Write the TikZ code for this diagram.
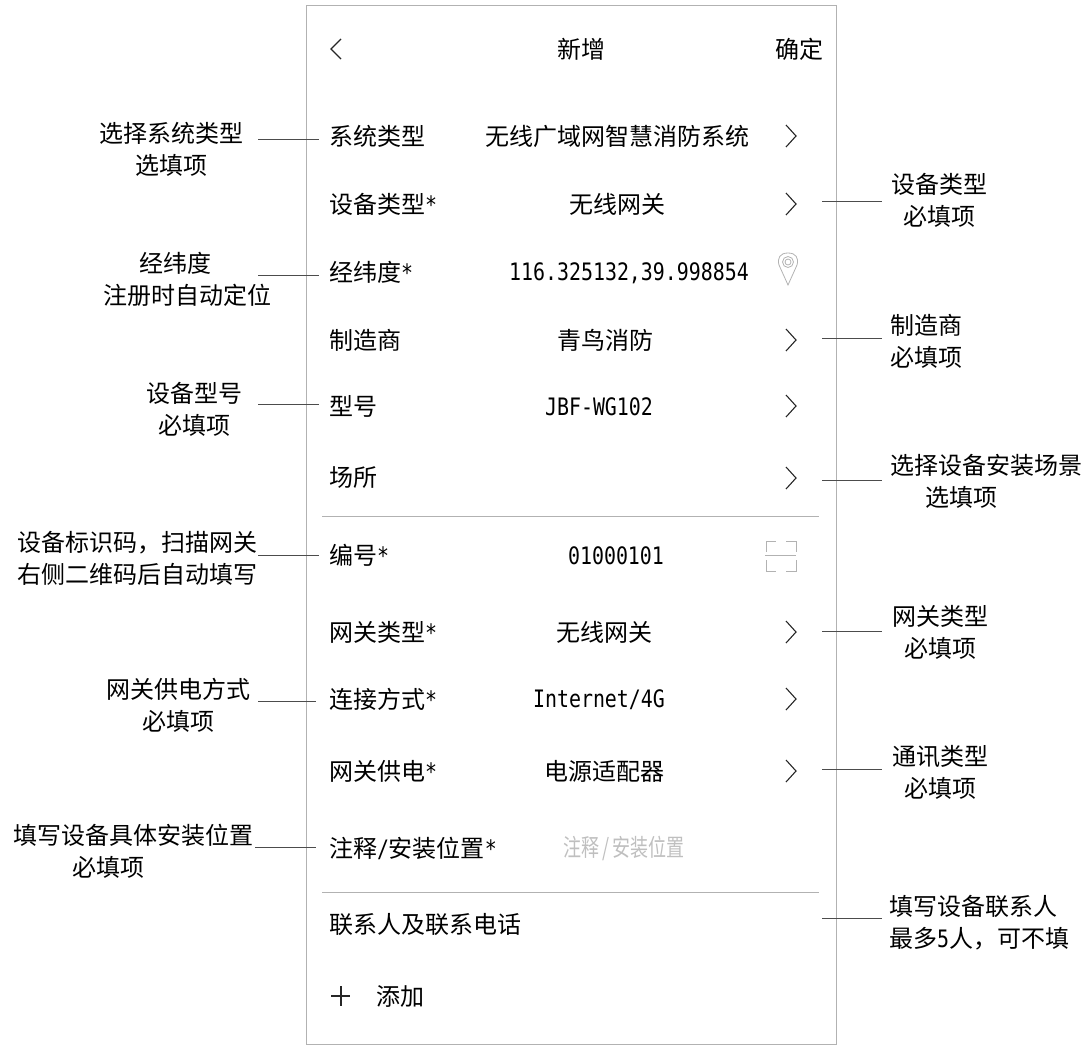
\documentclass[tikz,border=0pt]{standalone}
\usepackage{fontspec}
\setmainfont{Noto Sans CJK SC}
\newfontfamily\lat[FakeStretch=0.83]{DejaVu Sans Mono}
\newfontfamily\narrowcjk[FakeStretch=0.75]{Noto Sans CJK SC}
\newcommand{\La}[1]{{\lat\fontsize{24}{24}\selectfont #1}}
\tikzset{
 every node/.style={inner sep=0pt,outer sep=0pt,text=black},
 lab/.style={font=\fontsize{24}{32}\selectfont,anchor=west},
 val/.style={font=\fontsize{24}{32}\selectfont,anchor=center},
 note/.style={font=\fontsize{24}{32}\selectfont,align=center,anchor=center},
 conn/.style={draw=black!70,line width=0.6pt},
 rule/.style={draw=black!30,line width=1pt},
 chev/.style={draw=black!85,line width=1.1pt},
 faint/.style={draw=black!30,line width=0.8pt},
}
\begin{document}
\begin{tikzpicture}[x=1pt,y=-1pt]
\useasboundingbox (0,0) rectangle (1089,1047);
\node[draw=black!30,line width=1pt,minimum width=530pt,minimum height=1039pt,anchor=north west] (frame) at (306.5,5.5) {};
\draw[chev] (341,39)--(331,49)--(341,59);
\node[val] (title) at (581,49) {新增};
\node[val] (ok) at (799,49) {确定};
\foreach \n/\t/\y in {a/系统类型/136,b/设备类型\La{*}/204,c/经纬度\La{*}/272,d/制造商/340,e/型号/406,f/场所/478,g/编号\La{*}/555,h/网关类型\La{*}/632,i/连接方式\La{*}/699,j/网关供电\La{*}/771,k/{注释\La{/}安装位置\La{*}}/848,m/联系人及联系电话/924}
 \node[lab] (\n) at (329,\y) {\t};
\node[val] (va) at (617,136) {无线广域网智慧消防系统};
\node[val] (vb) at (617,204) {无线网关};
\node[val] (vc) at (629,273) {\La{116.325132,39.998854}};
\node[val] (vd) at (605,340) {青鸟消防};
\node[val] (ve) at (599,407) {\La{JBF-WG102}};
\node[val] (vg) at (616,556) {\La{01000101}};
\node[val] (vh) at (604,632) {无线网关};
\node[val] (vi) at (599,700) {\La{Internet/4G}};
\node[val] (vj) at (604,771) {电源适配器};
\node[val,text=black!25,font=\narrowcjk\fontsize{24}{32}\selectfont] (vk) at (624,848) {注释\hspace{3pt}/\hspace{3pt}安装位置};
\foreach \y in {136,204,340,406,478,632,699,771}
 \draw[chev] (786,\y-11)--(796,\y)--(786,\y+11);
% rules
\coordinate (r1a) at (322,516.5); \coordinate (r1b) at (819,516.5);
\coordinate (r2a) at (322,892.5); \coordinate (r2b) at (819,892.5);
\draw[rule] (r1a)--(r1b);
\draw[rule] (r2a)--(r2b);
% pin
\draw[faint] (788,285) -- (779,265) .. controls (777,258) and (780,253) .. (788,253) .. controls (796,253) and (799,258) .. (797,265) -- cycle;
\draw[faint] (788,262) circle (5.5);
\draw[faint] (788,262) circle (3);
% scan
\draw[faint] (766,552)--(766,541)--(776,541) (786,541)--(796,541)--(796,552)
 (766,560)--(766,571)--(776,571) (786,571)--(796,571)--(796,560)
 (765,555.5)--(796,555.5);
% plus
\draw[chev] (331,996)--(350,996) (341,986)--(341,1006);
\node[lab] (add) at (376,996) {添加};
% notes
\node[note] (na) at (171,149) {选择系统类型\\选填项};
\node[note] (nb) at (939,200) {设备类型\\必填项};
\node[note] (nc) at (187,279) {经纬度\hspace*{24pt}\\注册时自动定位};
\node[note] (nd) at (926,341) {制造商\\必填项};
\node[note] (ne) at (194,409) {设备型号\\必填项};
\node[note] (nf) at (986,481) {选择设备安装场景\\选填项\hspace*{50pt}};
\node[note] (ng) at (137,558) {设备标识码，扫描网关\\右侧二维码后自动填写};
\node[note] (nh) at (940,632) {网关类型\\必填项};
\node[note] (ni) at (178,705) {网关供电方式\\必填项};
\node[note] (nj) at (940,772) {通讯类型\\必填项};
\node[note] (nk) at (133,851) {填写设备具体安装位置\\必填项\hspace*{50pt}};
\node[note,align=left] (nm) at (979,923) {填写设备联系人\\最多\La{5}人，可不填};
% connectors
\coordinate (ca) at (258,139);\draw[conn] (ca)--(319,139);
\draw[conn] (822,201)--(882,201);
\draw[conn] (258,275)--(319,275);
\draw[conn] (822,338)--(882,338);
\draw[conn] (258,404)--(319,404);
\draw[conn] (822,480)--(882,480);
\draw[conn] (258,555)--(319,555);
\draw[conn] (822,631)--(882,631);
\draw[conn] (258,701)--(316,701);
\draw[conn] (822,769)--(882,769);
\draw[conn] (255,847)--(316,847);
\draw[conn] (822,918)--(882,918);
\end{tikzpicture}
\end{document}
